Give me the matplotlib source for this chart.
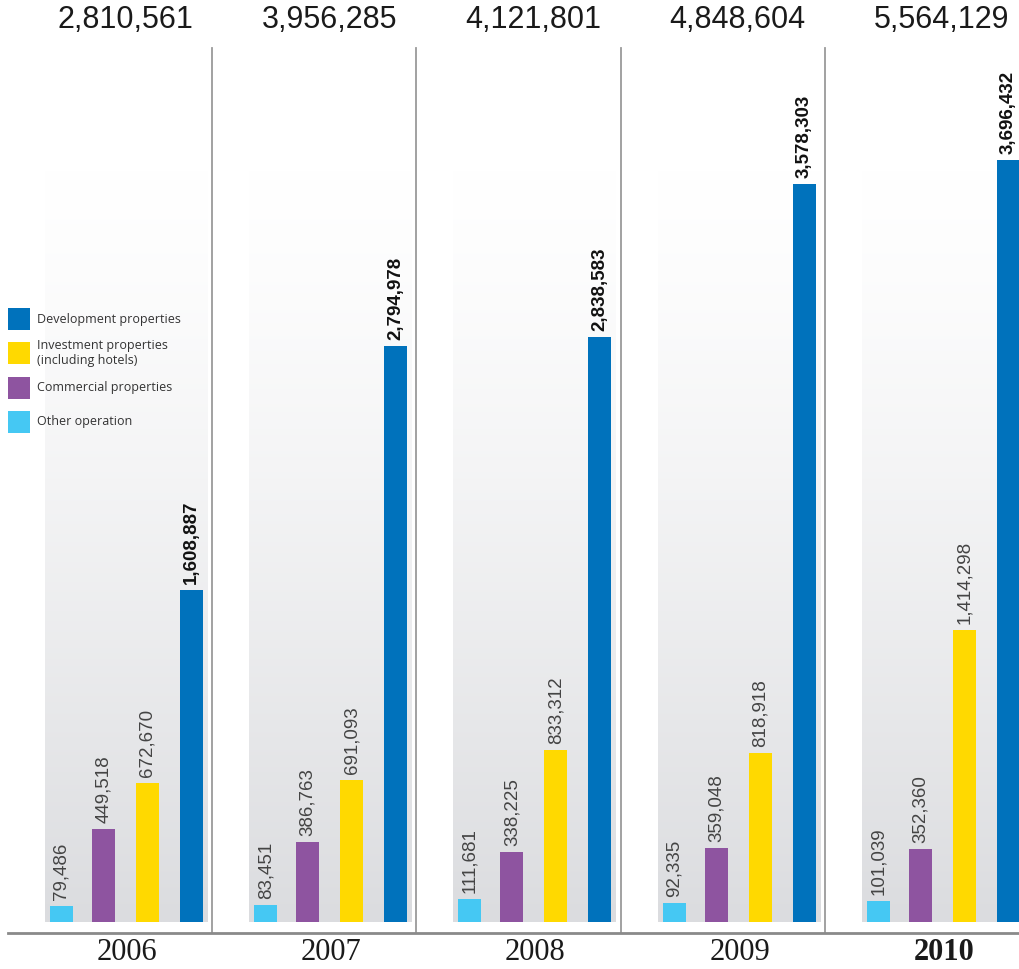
import numpy as np
import matplotlib
matplotlib.use("Agg")
import matplotlib.pyplot as plt
from matplotlib.patches import Rectangle

years = ["2006", "2007", "2008", "2009", "2010"]
totals = ["2,810,561", "3,956,285", "4,121,801", "4,848,604", "5,564,129"]
categories = ["Other operation", "Commercial properties",
              "Investment properties\n(including hotels)", "Development properties"]
other_op = [79486, 83451, 111681, 92335, 101039]
commercial = [449518, 386763, 338225, 359048, 352360]
investment = [672670, 691093, 833312, 818918, 1414298]
development = [1608887, 2794978, 2838583, 3578303, 3696432]
colors = ["#45c8f3", "#8e54a0", "#ffd900", "#0072bc"]
legend_order = [3, 2, 1, 0]

W, H = 1020, 969
BASE = 922.0          # pixel row of zero
SCALE = 4850.0        # value per pixel


def yv(p):
    return (BASE - p) * SCALE


fig = plt.figure(figsize=(W / 100, H / 100), dpi=100)
ax = fig.add_axes([0, 0, 1, 1])
ax.set_xlim(0, W)
ax.set_ylim(yv(H), yv(0))
ax.axis("off")

group_left = [50 + i * 204.25 for i in range(5)]
offsets = [0, 42, 86, 130]
bw = 23

# gradient backgrounds
grad = np.linspace(0, 1, 256).reshape(-1, 1)
top_c = np.array([1.0, 1.0, 1.0])
bot_c = np.array([219, 220, 223]) / 255
img = top_c + (bot_c - top_c) * grad[..., None] ** 1.3
img = img.reshape(256, 1, 3)
for i in range(5):
    x0 = group_left[i] - 5
    x1 = min(x0 + 163, W)
    ax.imshow(img, extent=(x0, x1, yv(922), yv(170)), aspect="auto",
              interpolation="bilinear", zorder=0)

series = [other_op, commercial, investment, development]
for i in range(5):
    for k, s in enumerate(series):
        x = group_left[i] + offsets[k]
        ax.bar(x, s[i], width=bw, bottom=0, align="edge", color=colors[k],
               zorder=2, linewidth=0)
        bold = k == 3
        ax.text(x + bw / 2, s[i] + 6 * SCALE, f"{s[i]:,}", rotation=90,
                ha="center", va="bottom", fontsize=13.5,
                family="Liberation Sans",
                fontweight="bold" if bold else "normal",
                color="#111111" if bold else "#444444", zorder=3)
    ax.text(group_left[i] + 75, yv(20), totals[i], ha="center", va="center",
            fontsize=22, family="Liberation Sans", color="#1a1a1a")
    ax.text(group_left[i] + 77, yv(952), years[i], ha="center", va="center",
            fontsize=22, family="Liberation Serif",
            fontweight="bold" if i == 4 else "normal", color="#1a1a1a")

# dividers
for xd in [212, 416, 621, 825]:
    ax.plot([xd, xd], [yv(48), yv(933)], color="#9a9a9a", lw=1.3, zorder=1)
ax.plot([8, W], [yv(933), yv(933)], color="#8a8a8a", lw=2, zorder=1)

# legend
leg_y = [319, 353, 388, 422]
for j, k in enumerate(legend_order):
    yc = leg_y[j]
    ax.add_patch(Rectangle((8, yv(yc + 11)), 22, 22 * SCALE,
                           color=colors[k], zorder=4, linewidth=0))
    ax.text(37, yv(yc), categories[k], ha="left", va="center",
            fontsize=9, family="Open Sans", color="#333333", zorder=4,
            linespacing=1.15)

fig.savefig("out.png", dpi=100)
